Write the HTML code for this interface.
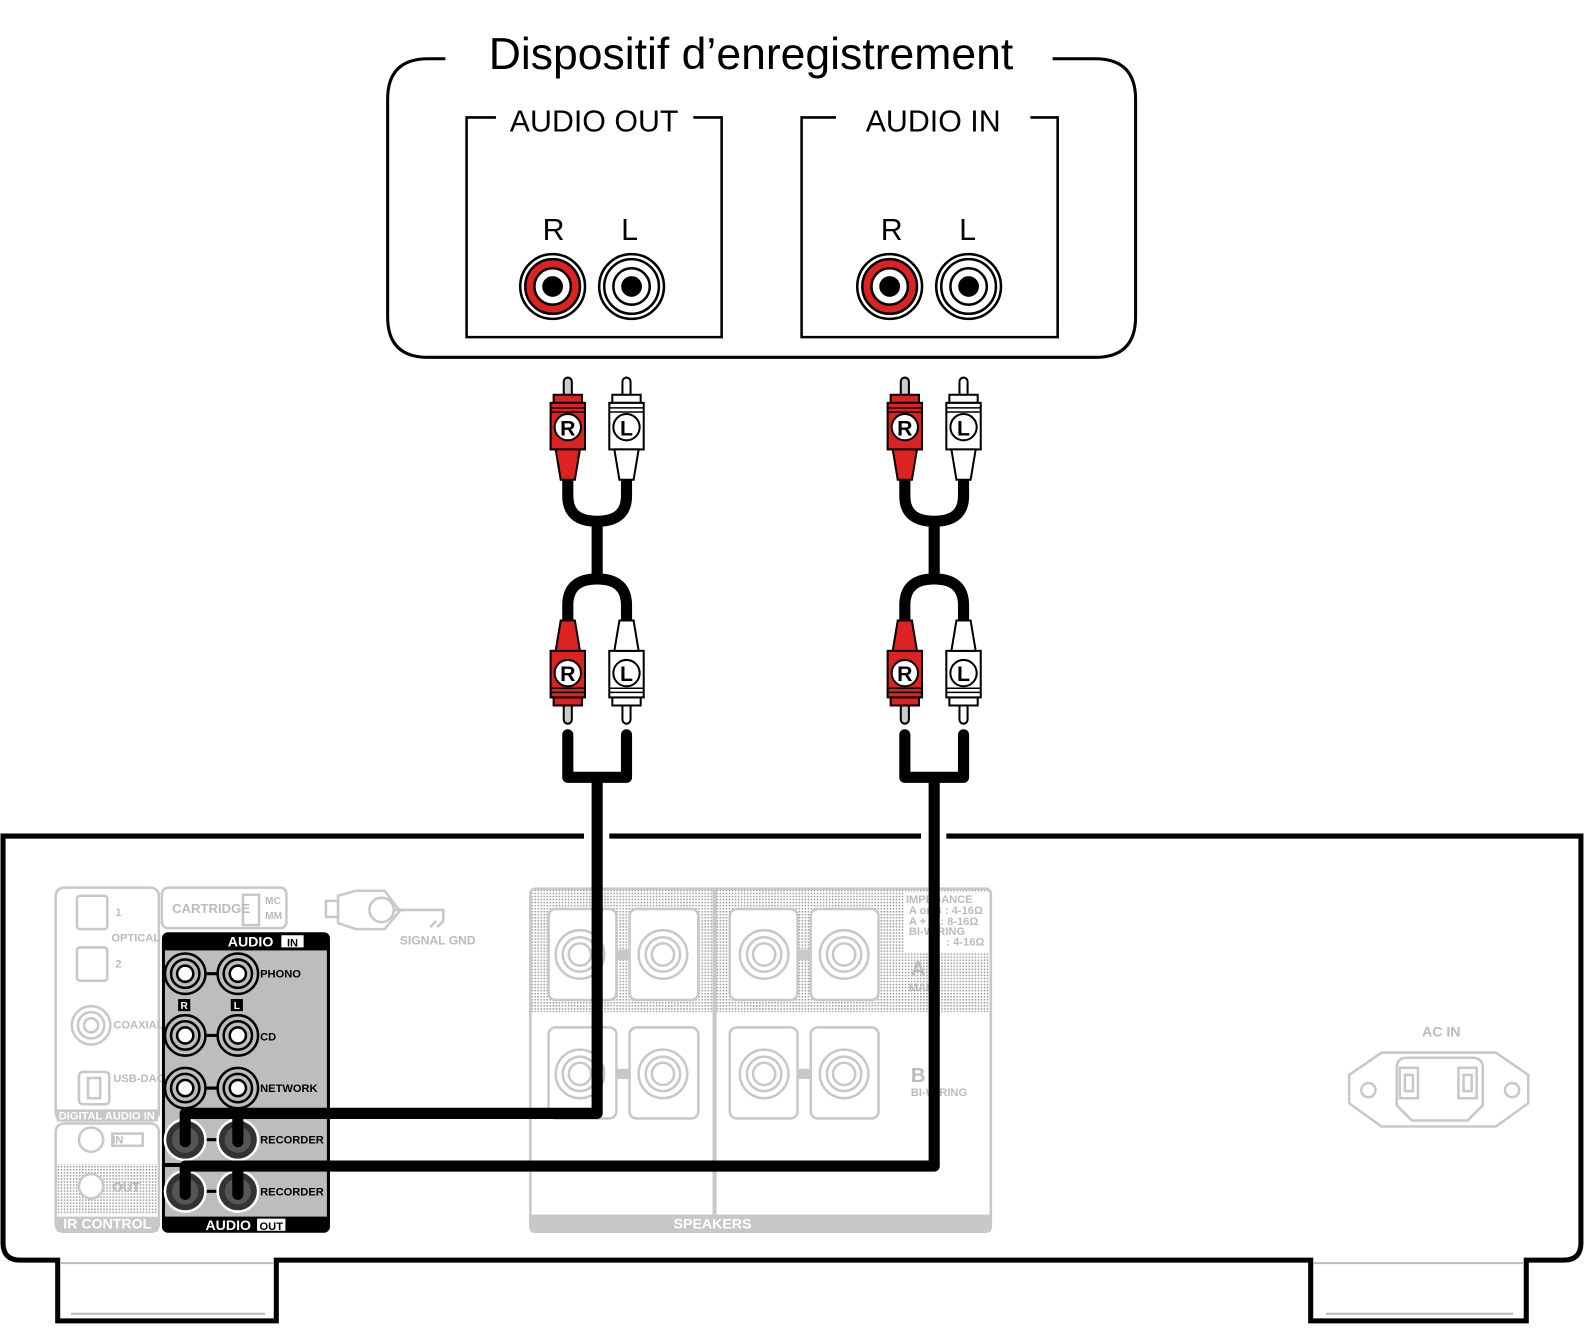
<!DOCTYPE html>
<html><head><meta charset="utf-8"><style>html,body{margin:0;padding:0;background:#fff}svg{display:block}</style></head>
<body>
<svg width="1587" height="1329" viewBox="0 0 1568 1313" xmlns="http://www.w3.org/2000/svg" font-family="Liberation Sans, sans-serif">
<defs>
<pattern id="dots" width="3" height="3" patternUnits="userSpaceOnUse"><rect width="1.5" height="1.5" fill="#999"/></pattern>
</defs>

<!-- Device box -->
<path d="M440 58 H423 Q383 58 383 98 V313 Q383 353 423 353 H1082 Q1122 353 1122 313 V98 Q1122 58 1082 58 H1040" fill="none" stroke="#000" stroke-width="3"/>
<text x="742" y="68" font-size="44" text-anchor="middle">Dispositif d’enregistrement</text>
<path d="M490 116 H461 V333 H713 V116 H685" fill="none" stroke="#000" stroke-width="2.5"/>
<text x="587" y="130" font-size="30" text-anchor="middle">AUDIO OUT</text>
<path d="M826 116 H792 V333 H1045 V116 H1018" fill="none" stroke="#000" stroke-width="2.5"/>
<text x="922" y="130" font-size="30" text-anchor="middle">AUDIO IN</text>
<g font-size="30" text-anchor="middle">
<text x="547" y="237">R</text><text x="622" y="237">L</text>
<text x="881" y="237">R</text><text x="956" y="237">L</text>
</g>
<g stroke="#000" stroke-width="2.5">
 <circle cx="546" cy="283" r="32" fill="#fff"/><circle cx="546" cy="283" r="27" fill="#d22"/><circle cx="546" cy="283" r="18" fill="#fff"/><circle cx="546" cy="283" r="9" fill="#000"/>
 <circle cx="624" cy="283" r="32" fill="#fff"/><circle cx="624" cy="283" r="27" fill="#fff"/><circle cx="624" cy="283" r="18" fill="#fff"/><circle cx="624" cy="283" r="9" fill="#000"/>
 <circle cx="879" cy="283" r="32" fill="#fff"/><circle cx="879" cy="283" r="27" fill="#d22"/><circle cx="879" cy="283" r="18" fill="#fff"/><circle cx="879" cy="283" r="9" fill="#000"/>
 <circle cx="957" cy="283" r="32" fill="#fff"/><circle cx="957" cy="283" r="27" fill="#fff"/><circle cx="957" cy="283" r="18" fill="#fff"/><circle cx="957" cy="283" r="9" fill="#000"/>
</g>

<!-- Amplifier body -->
<g fill="none" stroke="#000" stroke-width="5">
 <path d="M577 826 H3 V1228 Q3 1245 20 1245 H57 V1305 H273 V1245 H1295 V1305 H1508 V1245 H1545 Q1562 1245 1562 1228 V826 H935"/>
 <path d="M602 826 H910"/>
</g>
<g stroke="#bbb" stroke-width="2"><line x1="60" y1="1248" x2="270" y2="1248"/><line x1="1298" y1="1248" x2="1505" y2="1248"/><line x1="70" y1="1298" x2="262" y2="1298"/><line x1="1310" y1="1298" x2="1495" y2="1298"/></g>

<!-- grey panels left -->
<g fill="none" stroke="#c8c8c8" stroke-width="2.5">
 <rect x="55" y="877" width="102" height="230" rx="8"/>
 <rect x="55" y="1110" width="102" height="107" rx="8"/>
 <rect x="160" y="877" width="123" height="40" rx="6"/>
 <rect x="76" y="885" width="30" height="33" rx="3"/><rect x="76" y="936" width="30" height="33" rx="3"/>
 <circle cx="90" cy="1013" r="19"/><circle cx="90" cy="1013" r="13"/><circle cx="90" cy="1013" r="7"/>
 <rect x="78" y="1059" width="30" height="32" rx="4"/><rect x="87" y="1065" width="12" height="20"/>
 <circle cx="90" cy="1126" r="12"/><rect x="111" y="1120" width="30" height="12"/>
 <rect x="240" y="884" width="16" height="30"/>
 <path d="M322 890 h12 v16 h-12z M334 885 L352 880 H380 L395 900 L380 918 H352 L334 912z"/>
 <circle cx="377" cy="899" r="12"/><path d="M389 899 H438 V910 M425 916 l6 -6 M432 916 l6 -6"/>
 <path d="M1365 1040 H1478 L1510 1062 V1090 L1478 1113 H1365 L1333 1090 V1062 Z"/>
 <path d="M1390 1045 H1455 Q1465 1045 1465 1055 V1092 L1450 1107 H1395 L1380 1092 V1055 Q1380 1045 1390 1045Z"/>
 <rect x="1383" y="1055" width="18" height="30"/><rect x="1388" y="1062" width="8" height="16"/>
 <rect x="1441" y="1055" width="18" height="30"/><rect x="1446" y="1062" width="8" height="16"/>
 <circle cx="1352" cy="1077" r="7"/><circle cx="1494" cy="1077" r="7"/>
</g>
<rect x="56" y="1150" width="100" height="50" fill="url(#dots)"/>
<circle cx="90" cy="1172" r="12" fill="#fff" stroke="#c8c8c8" stroke-width="2.5"/>
<rect x="56" y="1096" width="100" height="12" fill="#c8c8c8"/>
<rect x="56" y="1202" width="100" height="15" fill="#c8c8c8"/>
<g fill="#bbb" font-weight="bold" font-size="11">
 <text x="114" y="905">1</text><text x="110" y="930">OPTICAL</text><text x="114" y="956">2</text>
 <text x="112" y="1016">COAXIAL</text><text x="112" y="1069">USB-DAC</text>
 <text x="170" y="902" font-size="13">CARTRIDGE</text><text x="262" y="893" font-size="10">MC</text><text x="262" y="908" font-size="10">MM</text>
 <text x="395" y="933" font-size="12">SIGNAL GND</text>
 <text x="1424" y="1024" font-size="14" text-anchor="middle">AC IN</text>
 <text x="111" y="1130" font-size="11">IN</text><text x="111" y="1177" font-size="13">OUT</text>
</g>
<text x="58" y="1106" fill="#fff" font-size="11" font-weight="bold">DIGITAL AUDIO  IN</text>
<text x="106" y="1214" fill="#fff" font-size="14" font-weight="bold" text-anchor="middle">IR CONTROL</text>

<!-- Speakers -->
<rect x="524" y="878" width="455" height="122" fill="url(#dots)"/>
<rect x="893" y="882" width="85" height="60" fill="#fff"/>
<rect x="524" y="878" width="455" height="339" rx="5" fill="none" stroke="#c8c8c8" stroke-width="2.5"/>
<line x1="706" y1="878" x2="706" y2="1200" stroke="#c8c8c8" stroke-width="4"/>
<rect x="524" y="1200" width="455" height="17" fill="#c8c8c8"/>
<text x="704" y="1214" fill="#fff" font-size="14" font-weight="bold" text-anchor="middle">SPEAKERS</text>
<g fill="#fff" stroke="#c8c8c8" stroke-width="2.5">
 <rect x="542" y="898" width="67" height="90" rx="7"/><rect x="622" y="898" width="68" height="90" rx="7"/>
 <rect x="721" y="898" width="67" height="90" rx="7"/><rect x="801" y="898" width="67" height="90" rx="7"/>
 <rect x="542" y="1015" width="67" height="90" rx="7"/><rect x="622" y="1015" width="68" height="90" rx="7"/>
 <rect x="721" y="1015" width="67" height="90" rx="7"/><rect x="801" y="1015" width="67" height="90" rx="7"/>
</g>
<g fill="none" stroke="#c8c8c8" stroke-width="2.5">
 <circle cx="573" cy="943" r="24"/><circle cx="573" cy="943" r="17"/><circle cx="573" cy="943" r="11"/>
 <circle cx="655" cy="943" r="24"/><circle cx="655" cy="943" r="17"/><circle cx="655" cy="943" r="11"/>
 <circle cx="755" cy="943" r="24"/><circle cx="755" cy="943" r="17"/><circle cx="755" cy="943" r="11"/>
 <circle cx="834" cy="943" r="24"/><circle cx="834" cy="943" r="17"/><circle cx="834" cy="943" r="11"/>
 <circle cx="573" cy="1061" r="24"/><circle cx="573" cy="1061" r="17"/><circle cx="573" cy="1061" r="11"/>
 <circle cx="655" cy="1061" r="24"/><circle cx="655" cy="1061" r="17"/><circle cx="655" cy="1061" r="11"/>
 <circle cx="755" cy="1061" r="24"/><circle cx="755" cy="1061" r="17"/><circle cx="755" cy="1061" r="11"/>
 <circle cx="834" cy="1061" r="24"/><circle cx="834" cy="1061" r="17"/><circle cx="834" cy="1061" r="11"/>
</g>
<g fill="#c8c8c8"><rect x="609" y="938" width="13" height="10"/><rect x="788" y="938" width="13" height="10"/><rect x="609" y="1056" width="13" height="10"/><rect x="788" y="1056" width="13" height="10"/></g>
<g fill="#bbb" font-weight="bold" font-size="11">
 <text x="895" y="892">IMPEDANCE</text><text x="898" y="903">A or B : 4-16Ω</text><text x="898" y="914">A + B : 8-16Ω</text><text x="898" y="924">BI-WIRING</text><text x="935" y="934">: 4-16Ω</text>
 <text x="898" y="979">MAIN</text><text x="900" y="1083">BI-WIRING</text>
 <text x="900" y="964" font-size="20">A</text><text x="900" y="1069" font-size="20">B</text>
</g>

<!-- Audio panel -->
<rect x="160" y="921" width="166" height="297" rx="6" fill="#000"/>
<rect x="163" y="939" width="160" height="210" fill="#bdbdbd"/>
<rect x="163" y="1153" width="160" height="49" fill="#bdbdbd"/>
<text x="225" y="935" fill="#fff" font-size="14" font-weight="bold">AUDIO</text>
<rect x="278" y="924" width="22" height="12" fill="#fff"/><text x="289" y="935" font-size="11" font-weight="bold" text-anchor="middle">IN</text>
<text x="203" y="1215" fill="#fff" font-size="14" font-weight="bold">AUDIO</text>
<rect x="254" y="1204" width="28" height="12" fill="#fff"/><text x="268" y="1215" font-size="11" font-weight="bold" text-anchor="middle">OUT</text>
<g font-size="11" font-weight="bold">
 <text x="257" y="966">PHONO</text><text x="257" y="1028">CD</text><text x="257" y="1079">NETWORK</text><text x="257" y="1130">RECORDER</text><text x="257" y="1181">RECORDER</text>
</g>
<rect x="176" y="987" width="12" height="12" fill="#000"/><text x="182" y="997" fill="#fff" font-size="10" font-weight="bold" text-anchor="middle">R</text>
<rect x="228" y="987" width="12" height="12" fill="#000"/><text x="234" y="997" fill="#fff" font-size="10" font-weight="bold" text-anchor="middle">L</text>
<g stroke="#000" stroke-width="3"><line x1="183" y1="962" x2="235" y2="962"/><line x1="183" y1="1023" x2="235" y2="1023"/><line x1="183" y1="1075" x2="235" y2="1075"/><line x1="183" y1="1126" x2="235" y2="1126"/><line x1="183" y1="1177" x2="235" y2="1177"/></g>
<g fill="#bdbdbd" stroke="#000" stroke-width="2.5">
 <circle cx="183" cy="962" r="20"/><circle cx="183" cy="962" r="14"/><circle cx="183" cy="962" r="8" fill="#fff"/>
 <circle cx="235" cy="962" r="20"/><circle cx="235" cy="962" r="14"/><circle cx="235" cy="962" r="8" fill="#fff"/>
 <circle cx="183" cy="1023" r="20"/><circle cx="183" cy="1023" r="14"/><circle cx="183" cy="1023" r="8" fill="#fff"/>
 <circle cx="235" cy="1023" r="20"/><circle cx="235" cy="1023" r="14"/><circle cx="235" cy="1023" r="8" fill="#fff"/>
 <circle cx="183" cy="1075" r="20"/><circle cx="183" cy="1075" r="14"/><circle cx="183" cy="1075" r="8" fill="#fff"/>
 <circle cx="235" cy="1075" r="20"/><circle cx="235" cy="1075" r="14"/><circle cx="235" cy="1075" r="8" fill="#fff"/>
</g>
<g stroke="#fff" stroke-width="2.5" fill="#333">
 <circle cx="183" cy="1126" r="20"/><circle cx="235" cy="1126" r="20"/><circle cx="183" cy="1177" r="20"/><circle cx="235" cy="1177" r="20"/>
</g>
<g fill="#555"><circle cx="183" cy="1126" r="13"/><circle cx="235" cy="1126" r="13"/><circle cx="183" cy="1177" r="13"/><circle cx="235" cy="1177" r="13"/></g>

<!-- Cables -->
<g fill="none" stroke="#000" stroke-width="11" stroke-linejoin="round" stroke-linecap="round">
 <path d="M590 770 V1100 H183 V1128 M235 1100 V1128"/>
 <path d="M923 770 V1152 H183 V1180 M235 1152 V1180"/>
 <path d="M561 726 V768 H619 V726"/>
 <path d="M894 726 V768 H952 V726"/>
 <path d="M561 470 V490 Q561 515 590 515 Q619 515 619 490 V470 M590 515 V572 M561 618 V598 Q561 572 590 572 Q619 572 619 598 V618"/>
 <path d="M894 470 V490 Q894 515 923 515 Q952 515 952 490 V470 M923 515 V572 M894 618 V598 Q894 572 923 572 Q952 572 952 598 V618"/>
</g>

<!-- Plugs -->
<g stroke="#000" stroke-width="2">
 <g transform="translate(561,416)">
  <rect x="-4" y="-43" width="8" height="22" rx="4" fill="#ccc"/>
  <rect x="-14" y="-26" width="28" height="8" fill="#d22"/>
  <rect x="-17" y="-18" width="34" height="46" fill="#d22"/>
  <path d="M-12 28 H12 L7 58 H-7 Z" fill="#d22"/>
  <line x1="-17" y1="-13" x2="17" y2="-13" stroke-width="1.5"/><line x1="-17" y1="-9" x2="17" y2="-9" stroke-width="1.5"/>
  <circle cx="0" cy="6" r="13" fill="#fff"/>
  <text x="0" y="14" font-size="21" font-weight="bold" text-anchor="middle" stroke="none" fill="#000">R</text>
 </g>
 <g transform="translate(619,416)">
  <rect x="-4" y="-43" width="8" height="22" rx="4" fill="#fff"/>
  <rect x="-14" y="-26" width="28" height="8" fill="#fff"/>
  <rect x="-17" y="-18" width="34" height="46" fill="#fff"/>
  <path d="M-12 28 H12 L7 58 H-7 Z" fill="#fff"/>
  <line x1="-17" y1="-13" x2="17" y2="-13" stroke-width="1.5"/><line x1="-17" y1="-9" x2="17" y2="-9" stroke-width="1.5"/>
  <circle cx="0" cy="6" r="13" fill="#fff"/>
  <text x="0" y="14" font-size="21" font-weight="bold" text-anchor="middle" stroke="none" fill="#000">L</text>
 </g>
 <g transform="translate(894,416)">
  <rect x="-4" y="-43" width="8" height="22" rx="4" fill="#ccc"/>
  <rect x="-14" y="-26" width="28" height="8" fill="#d22"/>
  <rect x="-17" y="-18" width="34" height="46" fill="#d22"/>
  <path d="M-12 28 H12 L7 58 H-7 Z" fill="#d22"/>
  <line x1="-17" y1="-13" x2="17" y2="-13" stroke-width="1.5"/><line x1="-17" y1="-9" x2="17" y2="-9" stroke-width="1.5"/>
  <circle cx="0" cy="6" r="13" fill="#fff"/>
  <text x="0" y="14" font-size="21" font-weight="bold" text-anchor="middle" stroke="none" fill="#000">R</text>
 </g>
 <g transform="translate(952,416)">
  <rect x="-4" y="-43" width="8" height="22" rx="4" fill="#fff"/>
  <rect x="-14" y="-26" width="28" height="8" fill="#fff"/>
  <rect x="-17" y="-18" width="34" height="46" fill="#fff"/>
  <path d="M-12 28 H12 L7 58 H-7 Z" fill="#fff"/>
  <line x1="-17" y1="-13" x2="17" y2="-13" stroke-width="1.5"/><line x1="-17" y1="-9" x2="17" y2="-9" stroke-width="1.5"/>
  <circle cx="0" cy="6" r="13" fill="#fff"/>
  <text x="0" y="14" font-size="21" font-weight="bold" text-anchor="middle" stroke="none" fill="#000">L</text>
 </g>
 <g transform="translate(561,671)">
  <rect x="-4" y="22" width="8" height="22" rx="4" fill="#ccc"/>
  <rect x="-14" y="18" width="28" height="8" fill="#d22"/>
  <rect x="-17" y="-28" width="34" height="46" fill="#d22"/>
  <path d="M-12 -28 H12 L7 -58 H-7 Z" fill="#d22"/>
  <line x1="-17" y1="13" x2="17" y2="13" stroke-width="1.5"/><line x1="-17" y1="9" x2="17" y2="9" stroke-width="1.5"/>
  <circle cx="0" cy="-6" r="13" fill="#fff"/>
  <text x="0" y="2" font-size="21" font-weight="bold" text-anchor="middle" stroke="none" fill="#000">R</text>
 </g>
 <g transform="translate(619,671)">
  <rect x="-4" y="22" width="8" height="22" rx="4" fill="#fff"/>
  <rect x="-14" y="18" width="28" height="8" fill="#fff"/>
  <rect x="-17" y="-28" width="34" height="46" fill="#fff"/>
  <path d="M-12 -28 H12 L7 -58 H-7 Z" fill="#fff"/>
  <line x1="-17" y1="13" x2="17" y2="13" stroke-width="1.5"/><line x1="-17" y1="9" x2="17" y2="9" stroke-width="1.5"/>
  <circle cx="0" cy="-6" r="13" fill="#fff"/>
  <text x="0" y="2" font-size="21" font-weight="bold" text-anchor="middle" stroke="none" fill="#000">L</text>
 </g>
 <g transform="translate(894,671)">
  <rect x="-4" y="22" width="8" height="22" rx="4" fill="#ccc"/>
  <rect x="-14" y="18" width="28" height="8" fill="#d22"/>
  <rect x="-17" y="-28" width="34" height="46" fill="#d22"/>
  <path d="M-12 -28 H12 L7 -58 H-7 Z" fill="#d22"/>
  <line x1="-17" y1="13" x2="17" y2="13" stroke-width="1.5"/><line x1="-17" y1="9" x2="17" y2="9" stroke-width="1.5"/>
  <circle cx="0" cy="-6" r="13" fill="#fff"/>
  <text x="0" y="2" font-size="21" font-weight="bold" text-anchor="middle" stroke="none" fill="#000">R</text>
 </g>
 <g transform="translate(952,671)">
  <rect x="-4" y="22" width="8" height="22" rx="4" fill="#fff"/>
  <rect x="-14" y="18" width="28" height="8" fill="#fff"/>
  <rect x="-17" y="-28" width="34" height="46" fill="#fff"/>
  <path d="M-12 -28 H12 L7 -58 H-7 Z" fill="#fff"/>
  <line x1="-17" y1="13" x2="17" y2="13" stroke-width="1.5"/><line x1="-17" y1="9" x2="17" y2="9" stroke-width="1.5"/>
  <circle cx="0" cy="-6" r="13" fill="#fff"/>
  <text x="0" y="2" font-size="21" font-weight="bold" text-anchor="middle" stroke="none" fill="#000">L</text>
 </g>
</g>
</svg>
</body></html>
